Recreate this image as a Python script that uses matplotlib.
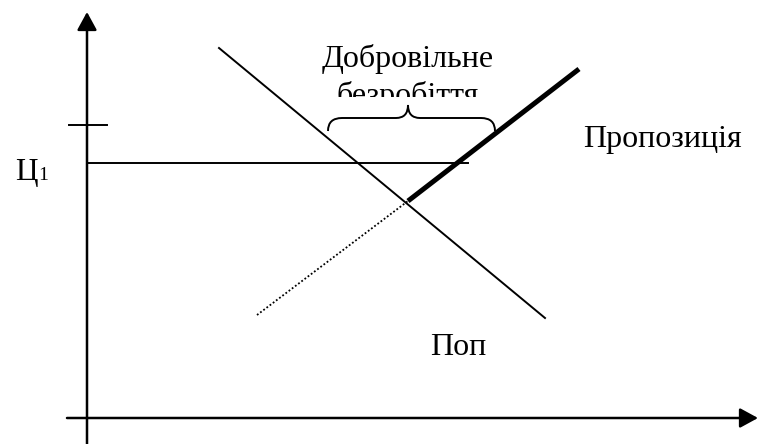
import matplotlib.pyplot as plt
from matplotlib.path import Path
from matplotlib.patches import PathPatch, Rectangle

# schematic in pixel-like units (y grows downward)
demand_x = [219, 545]
demand_y = [48, 318]
supply_x = [408, 579]
supply_y = [201, 69]
supply_dotted_x = [257, 408]
supply_dotted_y = [315, 201]
price_level = 163
price_line_end = 468
tick_level = 125
brace_left, brace_right, brace_tip = 328, 495, 408

fig = plt.figure(figsize=(7.6, 4.44), dpi=100)
ax = fig.add_axes([0, 0, 1, 1])
ax.set_xlim(0, 760)
ax.set_ylim(444, 0)
ax.axis('off')

# axes with arrows
ax.annotate('', xy=(87, 12), xytext=(87, 444),
            arrowprops=dict(arrowstyle='-|>,head_length=1.1,head_width=0.6',
                            lw=1.8, color='black', mutation_scale=10,
                            shrinkA=0, shrinkB=0))
ax.annotate('', xy=(758, 418), xytext=(67, 418),
            arrowprops=dict(arrowstyle='-|>,head_length=1.1,head_width=0.6',
                            lw=1.8, color='black', mutation_scale=10,
                            shrinkA=0, shrinkB=0))

# tick on the price axis and price line
ax.plot([69, 107], [tick_level, tick_level], color='black', lw=1.4)
ax.plot([87, price_line_end], [price_level, price_level], color='black', lw=1.4)

# demand and supply
ax.plot(demand_x, demand_y, color='black', lw=1.4)
ax.plot(supply_x, supply_y, color='black', lw=3.6, solid_capstyle='butt')
ax.plot(supply_dotted_x, supply_dotted_y, color='black', lw=1.3, ls=(0, (1, 1.2)))

# curly brace
top = 118
ends = 131
tipy = 105
verts = [
    (brace_left, ends), (brace_left, top), (brace_left + 14, top),
    (brace_tip - 12, top), (brace_tip, top), (brace_tip, tipy),
    (brace_tip, top), (brace_tip + 12, top),
    (brace_right - 14, top), (brace_right, top), (brace_right, ends),
]
codes = [Path.MOVETO, Path.CURVE3, Path.CURVE3,
         Path.LINETO, Path.CURVE3, Path.CURVE3,
         Path.CURVE3, Path.CURVE3,
         Path.LINETO, Path.CURVE3, Path.CURVE3]
ax.add_patch(PathPatch(Path(verts, codes), fill=False, lw=1.4, color='black'))

font = 'Liberation Serif'
ax.text(brace_tip, 67, 'Добровільне', family=font, fontsize=23,
        ha='center', va='baseline')
clip = Rectangle((300, 0), 260, 97, transform=ax.transData)
t = ax.text(brace_tip, 104, 'безробіття', family=font, fontsize=23,
            ha='center', va='baseline')
t.set_clip_on(True)
t.set_clip_path(clip)

ax.text(583, 147, 'Пропозиція', family=font, fontsize=23, ha='left', va='baseline')
ax.text(430, 355, 'Поп', family=font, fontsize=23, ha='left', va='baseline')
ax.text(15, 180, 'Ц', family=font, fontsize=22.5, ha='left', va='baseline')
ax.text(38, 180, '1', family=font, fontsize=14, ha='left', va='baseline')

plt.savefig('out.png', dpi=100)
